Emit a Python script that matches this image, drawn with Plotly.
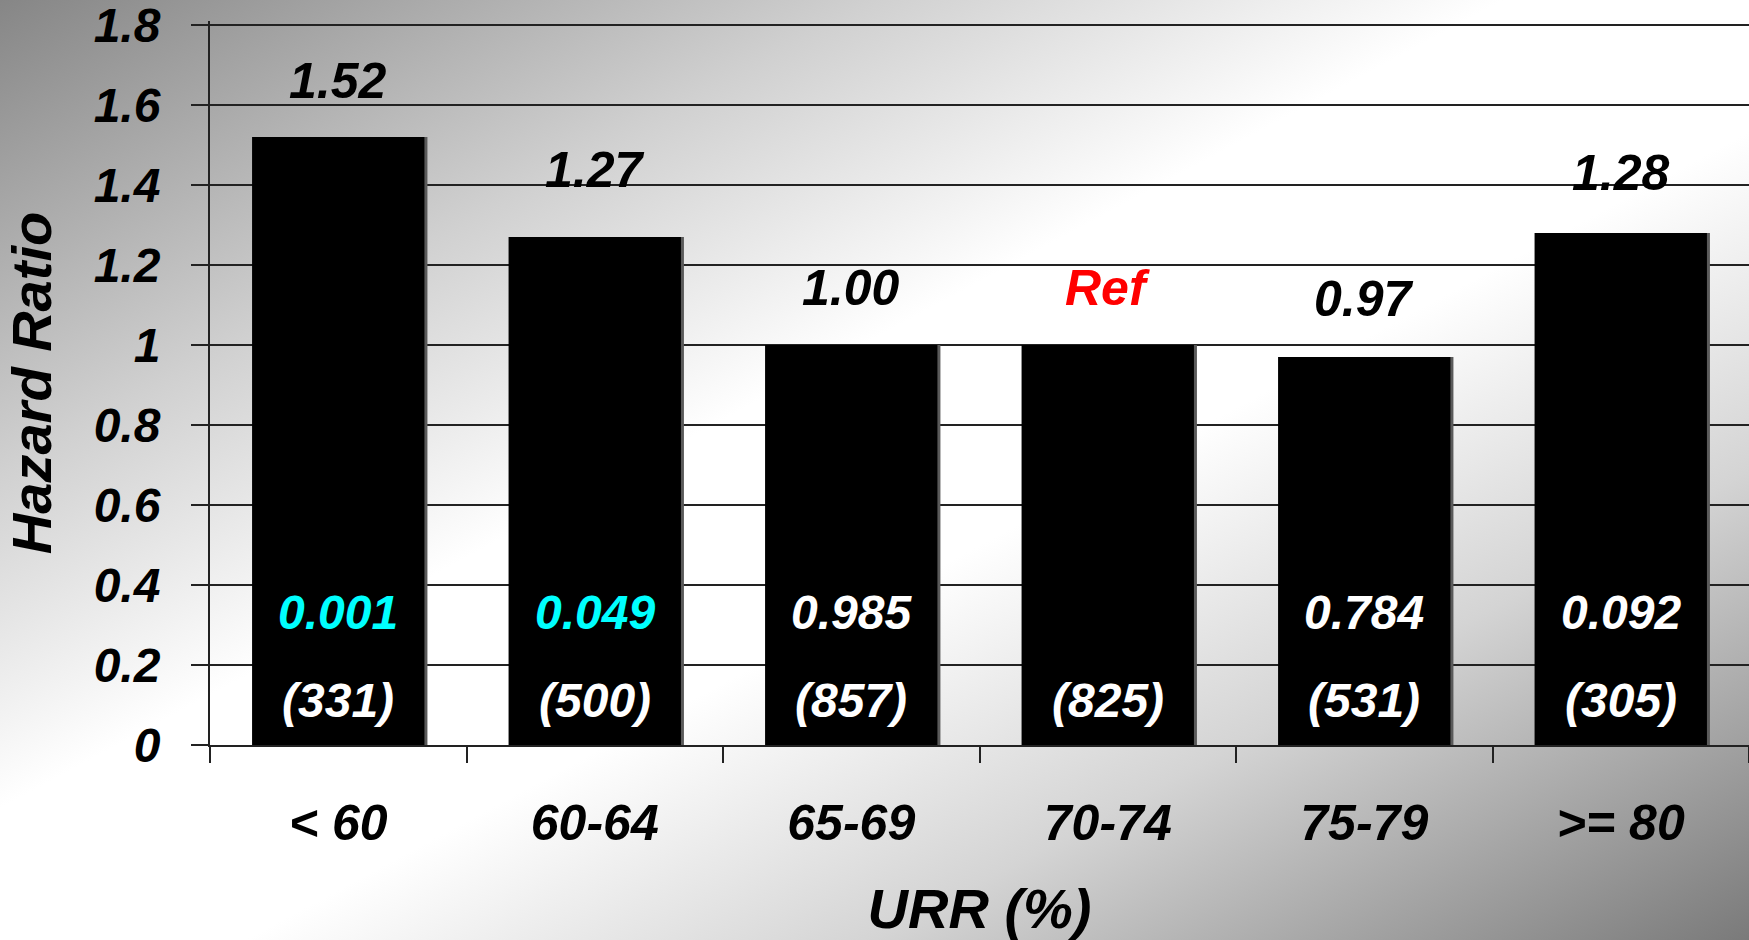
import base64
import plotly.graph_objects as go

# URR groups, hazard ratios, p-values and patient counts
categories = ["< 60", "60-64", "65-69", "70-74", "75-79", ">= 80"]
hazard_ratio = [1.52, 1.27, 1.00, 1.00, 0.97, 1.28]
p_values = ["0.001", "0.049", "0.985", "", "0.784", "0.092"]
counts = [331, 500, 857, 825, 531, 305]
reference_group = "70-74"

W, H = 1749, 940
FONT = "Liberation Sans, Arial, sans-serif"

# diagonal grey-white-grey backdrop
svg = f"""<svg xmlns='http://www.w3.org/2000/svg' width='{W}' height='{H}' viewBox='0 0 {W} {H}' preserveAspectRatio='none'>
<defs><linearGradient id='g' x1='0' y1='0' x2='1' y2='1'>
<stop offset='0' stop-color='#868686'/>
<stop offset='0.25' stop-color='#d0d0d0'/>
<stop offset='0.43' stop-color='#ffffff'/>
<stop offset='0.57' stop-color='#ffffff'/>
<stop offset='0.75' stop-color='#d4d4d4'/>
<stop offset='1' stop-color='#7a7a7a'/>
</linearGradient></defs>
<rect x='0' y='0' width='{W}' height='{H}' fill='url(#g)'/>
</svg>"""
bg_uri = "data:image/svg+xml;base64," + base64.b64encode(svg.encode()).decode()

Y_MAX = 1.81
ML, MR, MT, MB = 210, 0, 21, 195
pw, ph = W - ML - MR, H - MT - MB

fig = go.Figure()

# soft drop shadow behind each bar
fig.add_trace(go.Bar(
    x=categories, y=hazard_ratio, width=0.672, offset=-0.336 + 3 / 256.5,
    marker=dict(color="#5a5a5a", line=dict(width=0)), hoverinfo="skip",
))
fig.add_trace(go.Bar(
    x=categories, y=hazard_ratio, width=0.672, offset=-0.336,
    marker=dict(color="#000000", line=dict(width=0)),
))

label_shift = [56, 67, 57, 57, 58, 60]
for i, (cat, hr) in enumerate(zip(categories, hazard_ratio)):
    is_ref = cat == reference_group
    fig.add_annotation(
        x=cat, y=hr, yshift=label_shift[i], showarrow=False,
        text="Ref" if is_ref else f"{hr:.2f}",
        font=dict(family=FONT, size=50, weight="bold", style="italic",
                  color="#ff0000" if is_ref else "#000000"),
        yanchor="middle", xanchor="center",
    )
    if p_values[i]:
        fig.add_annotation(
            x=cat, y=0.3325, showarrow=False, text=p_values[i],
            font=dict(family=FONT, size=48, weight="bold", style="italic",
                      color="#00ffff" if float(p_values[i]) < 0.05 else "#ffffff"),
            yanchor="middle", xanchor="center",
        )
    fig.add_annotation(
        x=cat, y=0.1125, showarrow=False, text=f"({counts[i]})",
        font=dict(family=FONT, size=48, weight="bold", style="italic", color="#ffffff"),
        yanchor="middle", xanchor="center",
    )

fig.update_layout(
    width=W, height=H,
    margin=dict(l=ML, r=MR, t=MT, b=MB),
    paper_bgcolor="#ffffff",
    plot_bgcolor="rgba(0,0,0,0)",
    barmode="overlay",
    showlegend=False,
    images=[dict(
        source=bg_uri, xref="paper", yref="paper",
        x=-ML / pw, y=1 + MT / ph, sizex=W / pw, sizey=H / ph,
        xanchor="left", yanchor="top", sizing="stretch", layer="below",
    )],
    xaxis=dict(
        type="category", range=[-0.5, 5.5],
        showline=True, linecolor="#222222", linewidth=2,
        ticks="outside", tickson="boundaries", ticklen=16, tickwidth=1.5, tickcolor="#222222",
        ticklabelstandoff=33,
        tickfont=dict(family=FONT, size=50, weight="bold", style="italic", color="#000000"),
        showgrid=False,
        title=dict(text="URR (%)", standoff=40,
                   font=dict(family=FONT, size=56, weight="bold", style="italic", color="#000000")),
    ),
    yaxis=dict(
        range=[0, Y_MAX], tickvals=[0, 0.2, 0.4, 0.6, 0.8, 1.0, 1.2, 1.4, 1.6, 1.8],
        ticktext=["0", "0.2", "0.4", "0.6", "0.8", "1", "1.2", "1.4", "1.6", "1.8"],
        ticklabeloverflow="allow",
        showline=True, linecolor="#222222", linewidth=2,
        ticks="outside", ticklen=17, tickwidth=1.5, tickcolor="#222222",
        ticklabelstandoff=21,
        showgrid=True, gridcolor="#222222", gridwidth=1.5,
        zeroline=False,
        tickfont=dict(family=FONT, size=48, weight="bold", style="italic", color="#000000"),
        title=dict(text="Hazard Ratio", standoff=30,
                   font=dict(family=FONT, size=56, weight="bold", style="italic", color="#000000")),
    ),
)

fig.write_html("out.html")
